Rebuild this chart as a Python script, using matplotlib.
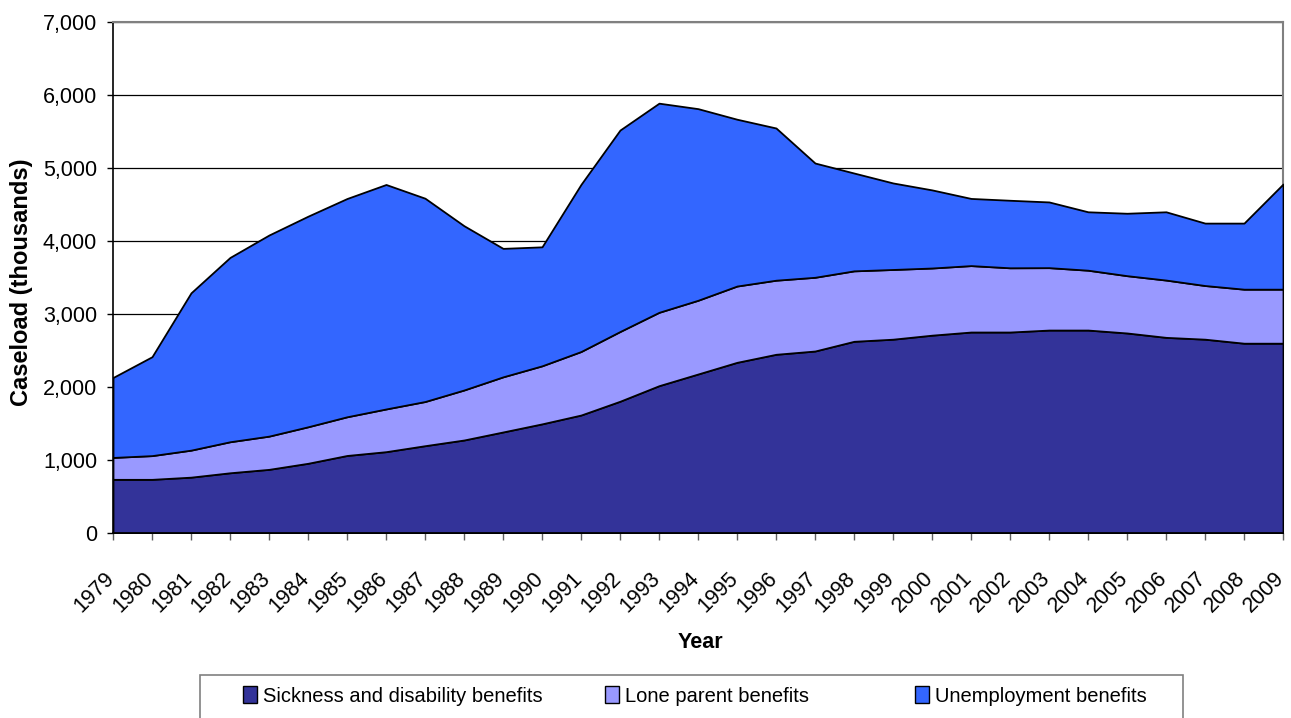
import matplotlib.pyplot as plt
import matplotlib.transforms as mtransforms
from matplotlib.patches import Patch, Rectangle

plt.rcParams['font.family'] = ['Liberation Sans', 'DejaVu Sans']

# Caseload (thousands) by benefit type
years = list(range(1979, 2010))
sickness = [735, 735, 765, 825, 872, 955, 1062, 1114, 1196, 1274, 1384, 1495, 1616, 1805, 2018, 2178,
            2338, 2448, 2493, 2626, 2655, 2710, 2753, 2753, 2780, 2780, 2740, 2680, 2655, 2600, 2600]
lone_parent = [300, 325, 370, 425, 455, 500, 530, 585, 605, 685, 755, 795, 870, 955, 1005, 1010,
               1045, 1015, 1010, 965, 955, 920, 910, 880, 855, 820, 785, 785, 735, 740, 740]
unemployment = [1095, 1355, 2155, 2525, 2755, 2885, 2990, 3075, 2785, 2250, 1760, 1630, 2290, 2760, 2865, 2625,
                2285, 2085, 1565, 1340, 1185, 1070, 920, 925, 900, 800, 855, 935, 855, 905, 1440]
labels = ["Sickness and disability benefits", "Lone parent benefits", "Unemployment benefits"]
colors = ["#333399", "#9999FF", "#3366FF"]

W, H = 1291, 718
fig = plt.figure(figsize=(W / 100, H / 100), dpi=100)
ax = fig.add_axes([113 / W, 1 - 533 / H, (1283 - 113) / W, (533 - 22) / H])

ax.stackplot(years, sickness, lone_parent, unemployment, colors=colors,
             edgecolor="black", linewidth=1.3, zorder=3)

ax.set_xlim(1979, 2009)
ax.set_ylim(0, 7000)
ax.set_yticks(range(0, 7001, 1000))
ax.set_yticklabels([f"{v:,}" for v in range(0, 7001, 1000)])
ax.set_xticks(years)
ax.set_xticklabels([str(y) for y in years], rotation=45, ha="right", rotation_mode="anchor")
ax.grid(axis="y", color="black", linewidth=0.9, zorder=0)
ax.set_axisbelow(True)

for side in ["top", "right"]:
    ax.spines[side].set_color("#808080")
    ax.spines[side].set_linewidth(1.5)
for side in ["left", "bottom"]:
    ax.spines[side].set_color("black")
    ax.spines[side].set_linewidth(1.2)
ax.spines["bottom"].set_zorder(5)

ax.tick_params(axis="y", direction="out", length=4.5, width=1, pad=7, labelsize=15.5)
ax.tick_params(axis="x", direction="out", length=5, width=1, color="#606060", pad=20, labelsize=15.5)

# shift rotated year labels a little to the left
offset = mtransforms.ScaledTranslation(-9 / 100, 0, fig.dpi_scale_trans)
for lbl in ax.get_xticklabels():
    lbl.set_transform(lbl.get_transform() + offset)

fig.text(700 / W, 1 - 643 / H, "Year", ha="center", va="center", fontsize=15.5, fontweight="bold")
fig.text(22 / W, 1 - 282 / H, "Caseload (thousands)", ha="center", va="center", rotation=90,
         fontsize=17, fontweight="bold")

# legend box (runs off the bottom edge like the original)
fig.patches.append(Rectangle((200 / W, 1 - 760 / H), 983 / W, 85 / H, transform=fig.transFigure,
                             facecolor="white", edgecolor="#808080", linewidth=1.2))
legend_x = [243, 605, 915]
for lab, col, lx in zip(labels, colors, legend_x):
    fig.legend([Patch(facecolor=col, edgecolor="black", linewidth=1)], [lab], loc="center left",
               bbox_to_anchor=(lx / W, 1 - 696 / H), frameon=False, fontsize=14.5,
               handlelength=0.7, handleheight=0.9, handletextpad=0.3, borderpad=0, borderaxespad=0)

fig.savefig("out.png", dpi=100)
